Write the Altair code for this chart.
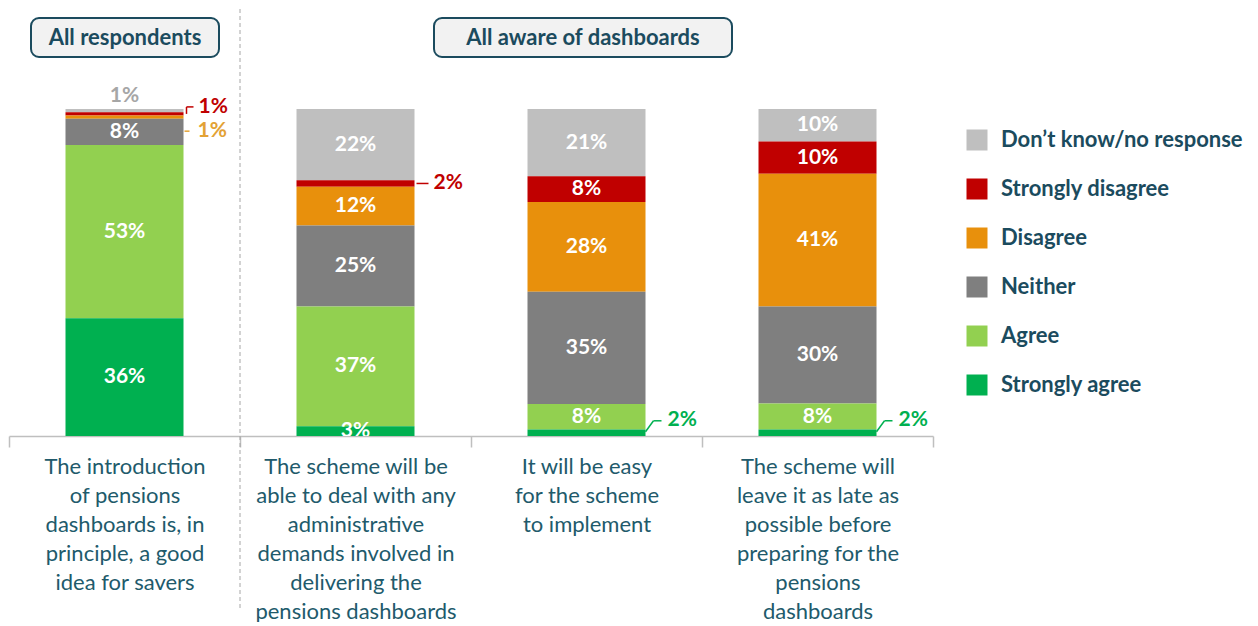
import altair as alt
import pandas as pd

categories = [
    "The introduction|of pensions|dashboards is, in|principle, a good|idea for savers",
    "The scheme will be|able to deal with any|administrative|demands involved in|delivering the|pensions dashboards",
    "It will be easy|for the scheme|to implement",
    "The scheme will|leave it as late as|possible before|preparing for the|pensions|dashboards",
]
responses = ["Don\u2019t know/no response", "Strongly disagree", "Disagree", "Neither", "Agree", "Strongly agree"]
colors = ["#BFBFBF", "#C00000", "#E8900C", "#7F7F7F", "#92D050", "#00B050"]
dont_know = [1, 22, 21, 10]
strongly_disagree = [1, 2, 8, 10]
disagree = [1, 12, 28, 41]
neither = [8, 25, 35, 30]
agree = [53, 37, 8, 8]
strongly_agree = [36, 3, 2, 2]
panels = ["All respondents", "All aware of dashboards"]

series = [dont_know, strongly_disagree, disagree, neither, agree, strongly_agree]
rows = []
for ri, (resp, vals) in enumerate(zip(responses, series)):
    for ci, cat in enumerate(categories):
        rows.append({"cat": cat, "ci": ci, "resp": resp, "ri": ri,
                     "order": len(responses) - 1 - ri, "value": vals[ci]})
df = pd.DataFrame(rows)

TEAL = "#1B4B5E"
FONT = "Lato"
BAR_W = 118
EDGE = 0.5 + BAR_W / 2 / 231  # band position of a bar's right edge

xscale = alt.Scale(paddingInner=0, paddingOuter=0)
xaxis = alt.Axis(title=None, labelAngle=0, labelExpr="split(datum.label, '|')",
                 labelFont=FONT, labelFontSize=22, labelColor="#215A6B",
                 labelLineHeight=29, labelPadding=9, labelBaseline="top",
                 labelLimit=0, domainColor="#BFBFBF", domainWidth=1.5,
                 tickColor="#BFBFBF", tickSize=11, tickWidth=1.5, tickBand="extent")
yscale = alt.Scale(domain=[0, 1])


def xenc(bp=0.5):
    return alt.X("cat:N", sort=categories, scale=xscale, axis=xaxis, bandPosition=bp)


base = (alt.Chart(df)
        .transform_stack(stack="value", as_=["y0", "y1"], groupby=["cat"],
                         offset="normalize", sort=[alt.SortField("order", "ascending")])
        .transform_calculate(mid="(datum.y0 + datum.y1) / 2", label="datum.value + '%'"))

bars = base.mark_bar(width=BAR_W).encode(
    x=xenc(),
    y=alt.Y("y0:Q", scale=yscale, axis=None),
    y2="y1:Q",
    color=alt.Color("resp:N", scale=alt.Scale(domain=responses, range=colors),
                    legend=alt.Legend(title=None, orient="none", legendX=957, legendY=20,
                                      direction="vertical", symbolType="square",
                                      symbolSize=441, symbolStrokeWidth=0,
                                      labelFont=FONT, labelFontSize=22, labelFontWeight="bold",
                                      labelColor=TEAL, labelOffset=13, rowPadding=27,
                                      padding=0, labelLimit=0)),
)

inside = base.transform_filter("datum.value >= 3").mark_text(
    clip=True, font=FONT, fontSize=21, fontWeight="bold", color="white"
).encode(x=xenc(), y=alt.Y("mid:Q", scale=yscale, axis=None), text="label:N")

layers = [bars, inside]

# small segments labelled outside the bar
top_lbl = base.transform_filter("datum.ci == 0 && datum.ri == 0").mark_text(
    font=FONT, fontSize=21, fontWeight="bold", color="#A6A6A6", dy=-13
).encode(x=xenc(), y=alt.Y("y1:Q", scale=yscale, axis=None), text="label:N")
layers.append(top_lbl)

side_specs = [
    # ci, ri, color, dx, dy, leader segments (x1, x2, y1, y2)
    (0, 1, "#C00000", 15, -7, [(3, 3, 0, -7), (3, 10, -7, -7)]),
    (0, 2, "#E3A235", 14, 14, [(1, 6, 14, 14)]),
    (1, 1, "#C00000", 19, 0, [(2, 14, 0, 0)]),
    (2, 5, "#00B050", 22, -13, [(0, 8, -1, -12), (8, 16, -12, -12)]),
    (3, 5, "#00B050", 22, -13, [(0, 8, -1, -12), (8, 16, -12, -12)]),
]
for ci, ri, col, dx, dy, segs in side_specs:
    sub = base.transform_filter(f"datum.ci == {ci} && datum.ri == {ri}")
    layers.append(sub.mark_text(font=FONT, fontSize=21, fontWeight="bold", color=col,
                                align="left", dx=dx, dy=dy).encode(
        x=xenc(EDGE), y=alt.Y("mid:Q", scale=yscale, axis=None), text="label:N"))
    for (x1, x2, y1, y2) in segs:
        layers.append(sub.mark_rule(color=col, strokeWidth=1.5, xOffset=x1, x2Offset=x2,
                                    yOffset=y1, y2Offset=y2).encode(
            x=xenc(EDGE), x2=alt.X2("cat:N", bandPosition=EDGE),
            y=alt.Y("mid:Q", scale=yscale, axis=None), y2="mid:Q"))

# separator and panel headers
sep = alt.Chart(pd.DataFrame({"k": [0]})).mark_rule(
    color="#A6A6A6", strokeDash=[4, 3], strokeWidth=1
).encode(x=alt.value(231), y=alt.value(-100), y2=alt.value(500))
layers.append(sep)

hdr1 = alt.Chart(pd.DataFrame({"t": [panels[0]]}))
hdr2 = alt.Chart(pd.DataFrame({"t": [panels[1]]}))
box_style = dict(cornerRadius=8, fill="#F2F2F2", stroke=TEAL, strokeWidth=2)
layers += [
    hdr1.mark_rect(**box_style).encode(x=alt.value(22), x2=alt.value(210),
                                       y=alt.value(-91), y2=alt.value(-52)),
    hdr1.mark_text(font=FONT, fontSize=22, fontWeight="bold", color=TEAL).encode(
        x=alt.value(116), y=alt.value(-71), text="t:N"),
    hdr2.mark_rect(**box_style).encode(x=alt.value(425), x2=alt.value(723),
                                       y=alt.value(-91), y2=alt.value(-52)),
    hdr2.mark_text(font=FONT, fontSize=22, fontWeight="bold", color=TEAL).encode(
        x=alt.value(574), y=alt.value(-71), text="t:N"),
]

chart = alt.layer(*layers).properties(
    width=924, height=327,
    padding={"left": 0, "top": 0, "right": 0, "bottom": 0},
    background="white",
).configure_view(stroke=None)

chart.save("out.html", embed_options={"renderer": "svg", "actions": False})
